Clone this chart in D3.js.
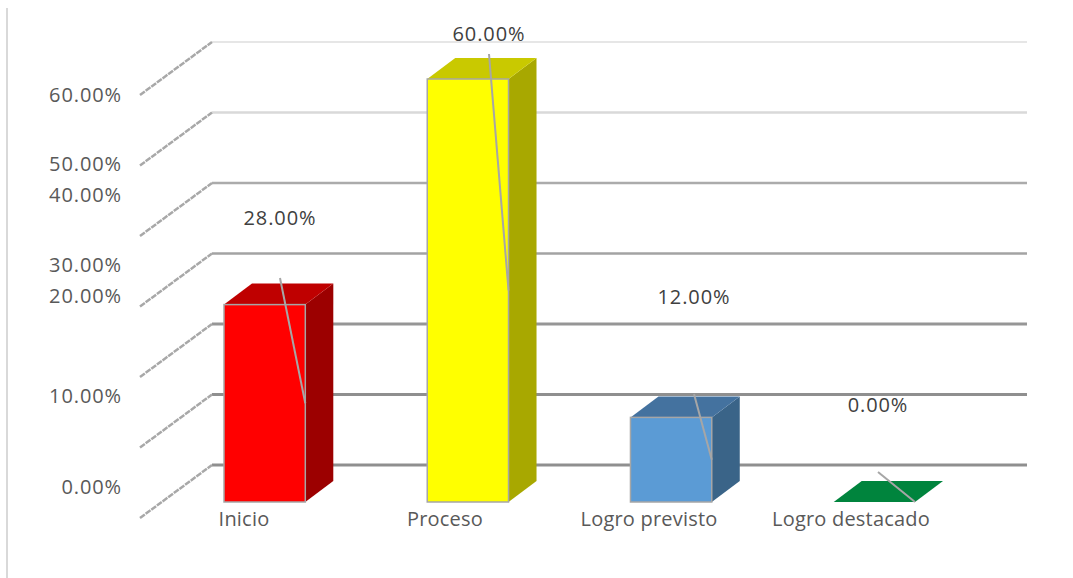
<!doctype html>
<html lang="es">
<head>
  <meta charset="utf-8">
  <title>Niveles de logro</title>
  <style>
    html, body { margin: 0; padding: 0; background: #fff; }
    svg { display: block; }
    text { font-family: "Open Sans", sans-serif; font-size: 20px; fill: #595959; }
    .tick-label, .value-label { letter-spacing: 0.9px; }
    .category-label { letter-spacing: 0.2px; }
  </style>
</head>
<body>
  <script src="https://cdn.jsdelivr.net/npm/d3@7"></script>
  <script>
    var categories = ['Inicio', 'Proceso', 'Logro previsto', 'Logro destacado']
    var values = [28, 60, 12, 0]
    var ticks = [0, 10, 20, 30, 40, 50, 60]

    // colours and hand placed labels, the original has them scattered
    var frontColors = ['#ff0000', '#ffff00', '#5b9bd5', '#00843d']
    var topColors = ['#bf0000', '#c9c900', '#44729f', '#00843d']
    var sideColors = ['#9c0000', '#a8a800', '#3a6488', '#00843d']
    var gridColors = ['#8f8f8f', '#8f8f8f', '#969696', '#a3a3a3', '#ababab', '#d9d9d9', '#dedede']
    var gridWidths = [3, 3, 3, 2.5, 2.5, 2.5, 1.5]
    var tickLabelY = [487, 396, 296, 265, 195, 164, 95]
    var valueLabelPos = [[280, 218], [489, 34], [694, 297], [878, 405]]
    var leaderGap = [60, 20, 97, 67]
    var categoryLabelX = [244, 445, 649, 851]

    var width = 1073
    var height = 578
    var wallDepth = { x: 72, y: 53 }
    var barDepth = { x: 28, y: 21 }

    var svg = d3.select('body').append('svg')
      .attr('width', width)
      .attr('height', height)

    // front of the bars
    var x = d3.scaleBand()
      .domain(categories)
      .range([224, 915])
      .paddingInner(0.6)

    var y = d3.scaleLinear()
      .domain([0, 60])
      .range([502, 79])

    // back wall of the chart
    var yWall = d3.scaleLinear()
      .domain([0, 60])
      .range([465, 42])

    svg.append('line')
      .attr('x1', 7).attr('x2', 7)
      .attr('y1', 8).attr('y2', height)
      .style('stroke', '#d9d9d9')
      .style('stroke-width', 2)

    var grid = svg.selectAll('.grid')
      .data(ticks)
      .enter().append('g')
      .attr('class', 'grid')

    grid.append('line')
      .attr('x1', 212)
      .attr('x2', 1027)
      .attr('y1', function(d) { return yWall(d) })
      .attr('y2', function(d) { return yWall(d) })
      .style('stroke', function(d, i) { return gridColors[i] })
      .style('stroke-width', function(d, i) { return gridWidths[i] })

    grid.append('line')
      .attr('x1', 212 - wallDepth.x)
      .attr('x2', 212)
      .attr('y1', function(d) { return yWall(d) + wallDepth.y })
      .attr('y2', function(d) { return yWall(d) })
      .style('stroke', '#a8a8a8')
      .style('stroke-width', 2.5)
      .style('stroke-dasharray', '6 1')

    svg.selectAll('.tick-label')
      .data(ticks)
      .enter().append('text')
      .attr('class', 'tick-label')
      .attr('x', 122)
      .attr('y', function(d, i) { return tickLabelY[i] })
      .attr('dy', '0.35em')
      .attr('text-anchor', 'end')
      .text(function(d) { return d3.format('.2f')(d) + '%' })

    var bar = svg.selectAll('.bar')
      .data(values)
      .enter().append('g')
      .attr('class', 'bar')

    function barLeft(i) { return x(categories[i]) }
    function barRight(i) { return x(categories[i]) + x.bandwidth() }

    function facePath(points) {
      return d3.line()(points) + 'Z'
    }

    // side face
    bar.append('path')
      .attr('d', function(d, i) {
        return facePath([
          [barRight(i), y(0)],
          [barRight(i) + barDepth.x, y(0) - barDepth.y],
          [barRight(i) + barDepth.x, y(d) - barDepth.y],
          [barRight(i), y(d)]
        ])
      })
      .style('fill', function(d, i) { return sideColors[i] })

    // top face
    bar.append('path')
      .attr('d', function(d, i) {
        return facePath([
          [barLeft(i), y(d)],
          [barLeft(i) + barDepth.x, y(d) - barDepth.y],
          [barRight(i) + barDepth.x, y(d) - barDepth.y],
          [barRight(i), y(d)]
        ])
      })
      .style('fill', function(d, i) { return topColors[i] })

    // front face
    bar.append('rect')
      .attr('x', function(d, i) { return barLeft(i) })
      .attr('y', function(d) { return y(d) })
      .attr('width', x.bandwidth())
      .attr('height', function(d) { return y(0) - y(d) })
      .style('fill', function(d, i) { return frontColors[i] })
      .style('stroke', '#a6a6a6')
      .style('stroke-width', 1.5)

    // leader lines run from the label to the middle of the bar's right edge
    svg.selectAll('.leader')
      .data(values)
      .enter().append('line')
      .attr('class', 'leader')
      .attr('x1', function(d, i) { return valueLabelPos[i][0] })
      .attr('y1', function(d, i) { return valueLabelPos[i][1] + leaderGap[i] })
      .attr('x2', function(d, i) { return barRight(i) })
      .attr('y2', function(d) { return y(d / 2) })
      .style('stroke', '#a6a6a6')
      .style('stroke-width', 2)

    svg.selectAll('.value-label')
      .data(values)
      .enter().append('text')
      .attr('class', 'value-label')
      .attr('x', function(d, i) { return valueLabelPos[i][0] })
      .attr('y', function(d, i) { return valueLabelPos[i][1] })
      .attr('dy', '0.35em')
      .attr('text-anchor', 'middle')
      .style('fill', '#404040')
      .text(function(d) { return d3.format('.2f')(d) + '%' })

    svg.selectAll('.category-label')
      .data(categories)
      .enter().append('text')
      .attr('class', 'category-label')
      .attr('x', function(d, i) { return categoryLabelX[i] })
      .attr('y', 519)
      .attr('dy', '0.35em')
      .attr('text-anchor', 'middle')
      .text(function(d) { return d })
  </script>
</body>
</html>
